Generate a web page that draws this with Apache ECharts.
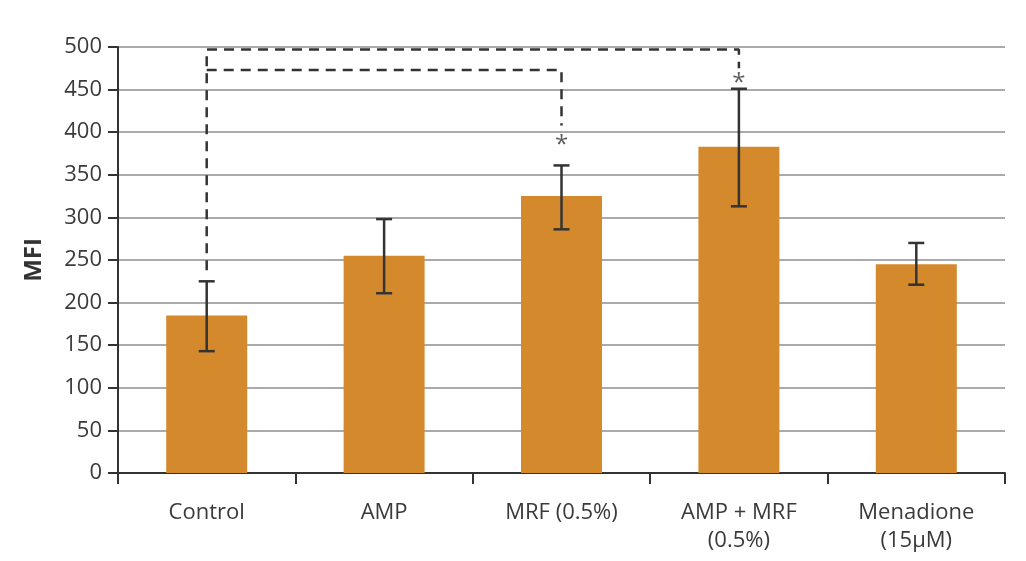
<!DOCTYPE html>
<html><head><meta charset="utf-8">
<script src="https://cdn.jsdelivr.net/npm/echarts@6/dist/echarts.min.js"></script>
<style>html,body{margin:0;padding:0;background:#fff}#c{width:1026px;height:561px}</style>
</head><body><div id="c"></div>
<script>
var categories = ['Control', 'AMP', 'MRF (0.5%)', 'AMP + MRF\n(0.5%)', 'Menadione\n(15µM)'];
var means = [185, 255, 325, 383, 245];
var errLow = [143, 211, 286, 313, 221];
var errHigh = [225, 298, 361, 451, 270];
var bracketOuter = [[0, 238], [0, 497], [3, 497], [3, 475]];
var bracketInner = [[0, 473], [2, 473], [2, 408]];
var stars = [[2, 391], [3, 464]];
var yTicks = [0, 50, 100, 150, 200, 250, 300, 350, 400, 450, 500];

var chart = echarts.init(document.getElementById('c'));
var errData = categories.map(function (c, i) { return [i, errLow[i], errHigh[i]]; });
chart.setOption({
  animation: false,
  grid: { left: 118, right: 21, top: 47, bottom: 88 },
  xAxis: {
    type: 'category', data: categories,
    axisLine: { lineStyle: { color: '#333', width: 2 } },
    axisTick: { show: true, length: 11, lineStyle: { color: '#333', width: 2 } },
    axisLabel: { color: '#3a3a3a', fontSize: 22, fontFamily: 'Open Sans', margin: 26, lineHeight: 28 }
  },
  yAxis: {
    type: 'value', min: 0, max: 500, interval: 50,
    name: 'MFI', nameLocation: 'middle', nameGap: 72,
    nameTextStyle: { fontSize: 24, fontWeight: 'bold', color: '#333', fontFamily: 'Open Sans' },
    axisLine: { show: true, lineStyle: { color: '#333', width: 2 } },
    axisTick: { show: true, length: 10, lineStyle: { color: '#333', width: 2 } },
    axisLabel: { color: '#3a3a3a', fontSize: 22, fontFamily: 'Open Sans', margin: 16,
      formatter: function (v) { return yTicks.indexOf(v) >= 0 ? String(v) : ''; } },
    splitLine: { lineStyle: { color: '#aaaaaa', width: 2 } }
  },
  series: [
    { type: 'bar', data: means, barWidth: 81, itemStyle: { color: '#D48A2C' }, z: 2 },
    { type: 'custom', z: 5, data: errData,
      renderItem: function (params, api) {
        var x = api.value(0);
        var lo = api.coord([x, api.value(1)]);
        var hi = api.coord([x, api.value(2)]);
        var cw = 8;
        var st = { stroke: '#333', lineWidth: 2.5 };
        return { type: 'group', children: [
          { type: 'line', shape: { x1: lo[0], y1: lo[1], x2: hi[0], y2: hi[1] }, style: st },
          { type: 'line', shape: { x1: lo[0] - cw, y1: lo[1], x2: lo[0] + cw, y2: lo[1] }, style: st },
          { type: 'line', shape: { x1: hi[0] - cw, y1: hi[1], x2: hi[0] + cw, y2: hi[1] }, style: st }
        ]};
      }
    },
    { type: 'line', data: bracketOuter, symbol: 'none', z: 6,
      lineStyle: { color: '#333', width: 2.5, type: [10, 7] } },
    { type: 'line', data: bracketInner, symbol: 'none', z: 6,
      lineStyle: { color: '#333', width: 2.5, type: [10, 7] } },
    { type: 'scatter', data: stars, symbolSize: 0, z: 7,
      label: { show: true, position: 'inside', formatter: '*', fontSize: 24, color: '#333', fontFamily: 'Open Sans', offset: [0, 5] } }
  ]
});
</script></body></html>
